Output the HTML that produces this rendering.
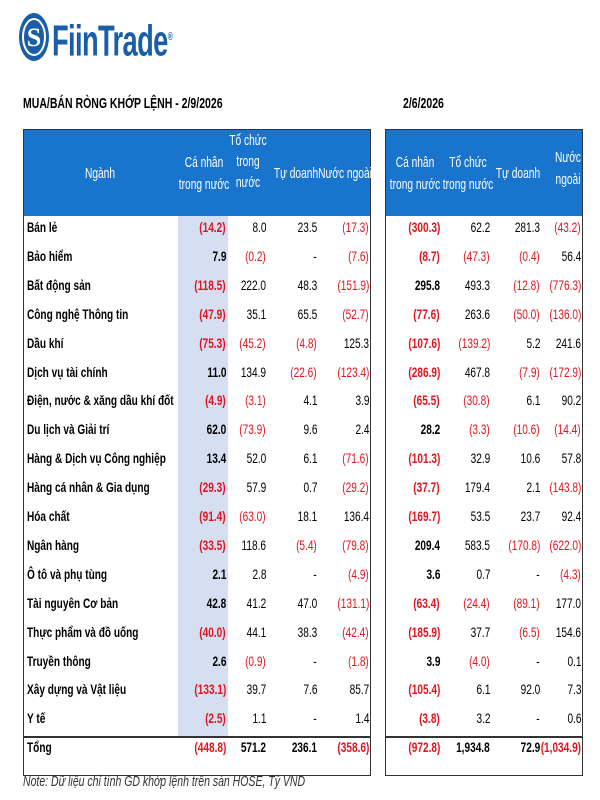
<!DOCTYPE html>
<html><head><meta charset="utf-8">
<style>
body{margin:0;width:600px;height:800px;background:#fff;position:relative;overflow:hidden;font-family:"Liberation Sans",sans-serif;}
.a{position:absolute;white-space:nowrap;}
.t{font-size:14px;line-height:15px;}
.neg{color:#e0141e;}
.b{font-weight:bold;}
.hdr{position:absolute;background:#1874cd;}
.ht{position:absolute;color:#fff;font-size:15px;line-height:21px;text-align:center;transform:scaleX(0.68);white-space:nowrap;width:100px;}
</style></head><body>
<svg class="a" style="left:18px;top:12px" width="32" height="50">
<ellipse cx="16" cy="25" rx="15" ry="24" fill="#1a5ea8"/><ellipse cx="16" cy="25" rx="11" ry="18" fill="none" stroke="#fff" stroke-width="2"/>
<text x="16" y="34" text-anchor="middle" font-size="26" font-weight="bold" fill="#fff" font-family="Liberation Serif">S</text></svg>
<div class="a" style="left:52px;top:12px;font-size:44px;line-height:50px;font-weight:bold;color:#1a5ea8;letter-spacing:-1px;transform:scaleX(0.62);transform-origin:left">FiinTrade<sup style="font-size:11px">®</sup></div>
<div class="a" style="left:23px;top:95px;font-size:15px;font-weight:bold;transform:scaleX(0.7);transform-origin:left">MUA/BÁN RÒNG KHỚP LỆNH - 2/9/2026</div>
<div class="a" style="left:403px;top:95px;font-size:15px;font-weight:bold;transform:scaleX(0.7);transform-origin:left">2/6/2026</div>

<div class="hdr" style="left:23px;top:130px;width:348px;height:86px"></div>
<div class="hdr" style="left:385px;top:130px;width:198px;height:86px"></div>
<div class="a" style="left:178px;top:216px;width:50px;height:521px;background:#d6dff2"></div>
<div class="a" style="left:23px;top:129px;width:346px;height:645px;border:1px solid #333"></div>
<div class="a" style="left:385px;top:129px;width:196px;height:645px;border:1px solid #333"></div>
<div class="a" style="left:23px;top:736px;width:348px;height:2px;background:#333"></div>
<div class="a" style="left:385px;top:736px;width:198px;height:2px;background:#333"></div>

<div class="ht" style="left:50px;top:163px">Ngành</div>
<div class="ht" style="left:154px;top:152px;line-height:22px">Cá nhân<br>trong nước</div>
<div class="ht" style="left:198px;top:130px">Tổ chức<br>trong<br>nước</div>
<div class="ht" style="left:246px;top:163px">Tự doanh</div>
<div class="ht" style="left:295px;top:163px">Nước ngoài</div>
<div class="ht" style="left:365px;top:152px;line-height:22px">Cá nhân<br>trong nước</div>
<div class="ht" style="left:418px;top:152px;line-height:22px">Tổ chức<br>trong nước</div>
<div class="ht" style="left:468px;top:163px">Tự doanh</div>
<div class="ht" style="left:518px;top:147px;line-height:22px">Nước<br>ngoài</div>

<div class="a" style="left:23px;top:773px;font-size:15px;font-style:italic;color:#333;transform:scaleX(0.7);transform-origin:left">Note: Dữ liệu chỉ tính GD khớp lệnh trên sàn HOSE, Tỷ VND</div>

<div id="rows"></div>
<script>
const sectors=["Bán lẻ","Bảo hiểm","Bất động sản","Công nghệ Thông tin","Dầu khí","Dịch vụ tài chính","Điện, nước & xăng dầu khí đốt","Du lịch và Giải trí","Hàng & Dịch vụ Công nghiệp","Hàng cá nhân & Gia dụng","Hóa chất","Ngân hàng","Ô tô và phụ tùng","Tài nguyên Cơ bản","Thực phẩm và đồ uống","Truyền thông","Xây dựng và Vật liệu","Y tế","Tổng"];
const caNhan=[-14.2,7.9,-118.5,-47.9,-75.3,11.0,-4.9,62.0,13.4,-29.3,-91.4,-33.5,2.1,42.8,-40.0,2.6,-133.1,-2.5,-448.8];
const toChuc=[8.0,-0.2,222.0,35.1,-45.2,134.9,-3.1,-73.9,52.0,57.9,-63.0,118.6,2.8,41.2,44.1,-0.9,39.7,1.1,571.2];
const tuDoanh=[23.5,null,48.3,65.5,-4.8,-22.6,4.1,9.6,6.1,0.7,18.1,-5.4,null,47.0,38.3,null,7.6,null,236.1];
const nuocNgoai=[-17.3,-7.6,-151.9,-52.7,125.3,-123.4,3.9,2.4,-71.6,-29.2,136.4,-79.8,-4.9,-131.1,-42.4,-1.8,85.7,1.4,-358.6];
const rCaNhan=[-300.3,-8.7,295.8,-77.6,-107.6,-286.9,-65.5,28.2,-101.3,-37.7,-169.7,209.4,3.6,-63.4,-185.9,3.9,-105.4,-3.8,-972.8];
const rToChuc=[62.2,-47.3,493.3,263.6,-139.2,467.8,-30.8,-3.3,32.9,179.4,53.5,583.5,0.7,-24.4,37.7,-4.0,6.1,3.2,1934.8];
const rTuDoanh=[281.3,-0.4,-12.8,-50.0,5.2,-7.9,6.1,-10.6,10.6,2.1,23.7,-170.8,null,-89.1,-6.5,null,92.0,null,72.9];
const rNuocNgoai=[-43.2,56.4,-776.3,-136.0,241.6,-172.9,90.2,-14.4,57.8,-143.8,92.4,-622.0,-4.3,177.0,154.6,0.1,7.3,0.6,-1034.9];
const cols=[[caNhan,226,true],[toChuc,266,false],[tuDoanh,317,false],[nuocNgoai,369,false],[rCaNhan,440,true],[rToChuc,490,false],[rTuDoanh,540,false],[rNuocNgoai,581,false]];
function fmt(v){if(v===null)return "-";const s=Math.abs(v).toLocaleString("en-US",{minimumFractionDigits:1,maximumFractionDigits:1});return v<0?"("+s+")":s;}
function rowY(i){return i<18?220+i*28.9:740;}
const host=document.getElementById("rows");
sectors.forEach((s,i)=>{
  const y=rowY(i);
  const l=document.createElement("div");
  l.className="a t b";l.style.left="27px";l.style.top=y+"px";l.style.transform="scaleX(0.72)";l.style.transformOrigin="left";l.textContent=s;
  
  
  host.appendChild(l);
  cols.forEach(([arr,x,bold])=>{
    const v=arr[i];const d=document.createElement("div");
    d.className="a t"+(v!==null&&v<0?" neg":"")+((bold||i===18)?" b":"");
    d.style.right=(600-x)+"px";d.style.top=y+"px";d.style.transform="scaleX(0.72)";d.style.transformOrigin="right";d.textContent=fmt(v);
    
    
    host.appendChild(d);
  });
});
</script>
</body></html>
